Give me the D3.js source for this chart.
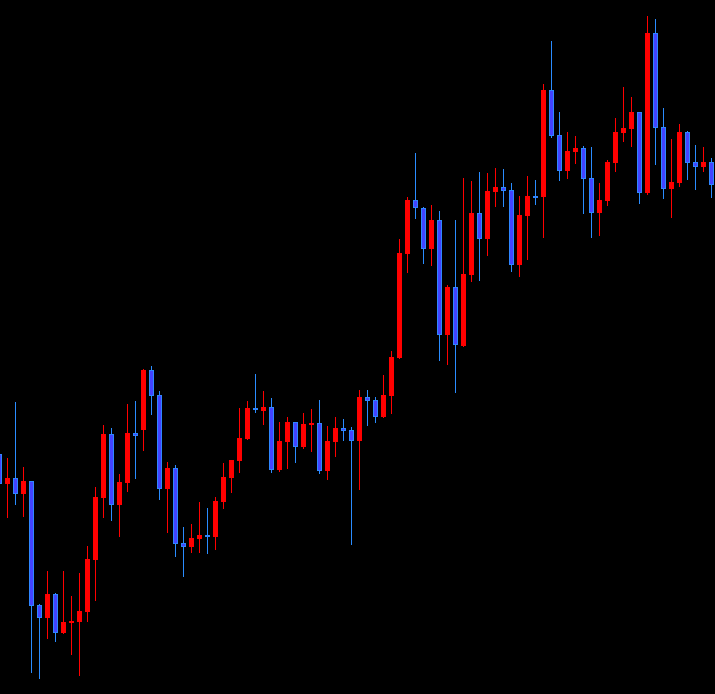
<!DOCTYPE html>
<html>
<head>
<meta charset="utf-8">
<script src="https://cdn.jsdelivr.net/npm/d3@7"></script>
<style>
  html, body { margin: 0; padding: 0; background: #000; overflow: hidden; }
  svg { display: block; }
</style>
</head>
<body>
<script>
// OHLC values (arbitrary price units)
let opens  = [240,210,216,200,213,89,76,100,61,71,72,82,134,196,260,189,211,261,264,324,
              299,205,226,151,147,155,159,157,192,216,233,255,286,283,287,224,252,272,247,269,
              271,223,252,266,264,253,297,294,277,298,336,440,494,486,445,474,359,407,348,419,
              481,455,502,507,504,429,478,498,497,604,559,523,542,546,516,481,493,531,561,565,
              582,501,661,567,505,511,562,532,527,532];
let highs  = [241,236,292,227,213,90,123,101,123,98,121,148,207,269,266,220,290,293,325,328,
              303,232,229,167,170,192,186,197,231,234,286,293,320,303,296,272,277,272,281,285,
              294,268,277,275,267,304,304,297,319,343,455,497,541,487,489,483,409,474,516,513,
              522,521,526,525,511,498,518,514,610,653,582,562,558,548,547,511,534,576,607,597,
              582,678,675,586,555,570,563,549,547,536];
let lows   = [207,177,190,178,22,16,56,53,61,40,19,73,94,177,174,158,203,216,244,280,
              195,162,138,118,142,142,141,145,186,202,222,255,282,270,222,223,226,232,246,243,
              221,215,238,254,150,205,269,272,277,281,336,422,476,431,429,334,330,302,348,413,
              414,439,488,488,423,418,435,490,457,557,514,516,531,481,457,459,489,523,553,548,
              491,500,530,496,477,508,515,505,523,497];
let closes = [210,216,200,213,88,76,100,61,72,73,83,135,197,260,189,212,261,258,324,298,
              205,226,150,147,156,159,157,193,217,234,256,286,284,287,224,253,272,247,270,271,
              223,253,266,263,253,297,293,277,299,337,441,494,486,445,474,359,407,349,420,481,
              455,503,507,503,429,479,498,497,604,558,523,543,546,515,481,494,532,562,566,582,
              501,661,566,505,512,562,531,527,532,509];

let width = 715;
let height = 694;

let candles = opens.map((o, i) => ({i: i, o: o, h: highs[i], l: lows[i], c: closes[i]}));

let xscale = d3.scaleLinear().domain([0, candles.length - 1]).range([-0.5, -0.5 + 8 * (candles.length - 1)]);
let yscale = d3.scaleLinear().domain([0, 694]).range([height, 0]);

let bodyW = 5;
let upColor = "#ff0000";
let downFill = "#4343ff";
let downEdge = "#2f86ff";

let svg = d3.select("body").append("svg").attr("width", width).attr("height", height);

svg.append("rect").attr("width", width).attr("height", height).attr("fill", "#000");

// wicks
svg.selectAll("line.wick").data(candles).enter().append("line")
    .attr("class", "wick")
    .attr("x1", (d) => {return xscale(d.i);})
    .attr("x2", (d) => {return xscale(d.i);})
    .attr("y1", (d) => {return Math.round(yscale(d.h));})
    .attr("y2", (d) => {return Math.round(yscale(d.l)) + 1;})
    .attr("stroke", (d) => {return d.c > d.o ? upColor : "#2a8cff";})
    .attr("stroke-width", 1)
    .attr("shape-rendering", "crispEdges");

// up bodies
svg.selectAll("rect.up").data(candles.filter((d) => {return d.c > d.o;})).enter().append("rect")
    .attr("class", "up")
    .attr("x", (d) => {return xscale(d.i) - bodyW / 2;})
    .attr("y", (d) => {return Math.round(yscale(d.c));})
    .attr("width", bodyW)
    .attr("height", (d) => {return Math.max(2, Math.round(yscale(d.o) - yscale(d.c)));})
    .attr("fill", upColor)
    .attr("shape-rendering", "crispEdges");

// down bodies
svg.selectAll("rect.down").data(candles.filter((d) => {return d.c <= d.o;})).enter().append("rect")
    .attr("class", "down")
    .attr("x", (d) => {return xscale(d.i) - bodyW / 2 + 0.5;})
    .attr("y", (d) => {return Math.round(yscale(d.o)) + 0.5;})
    .attr("width", bodyW - 1)
    .attr("height", (d) => {return Math.max(1, Math.round(yscale(d.c) - yscale(d.o)) - 1);})
    .attr("fill", downFill)
    .attr("stroke", downEdge)
    .attr("stroke-width", 1);
</script>
</body>
</html>
